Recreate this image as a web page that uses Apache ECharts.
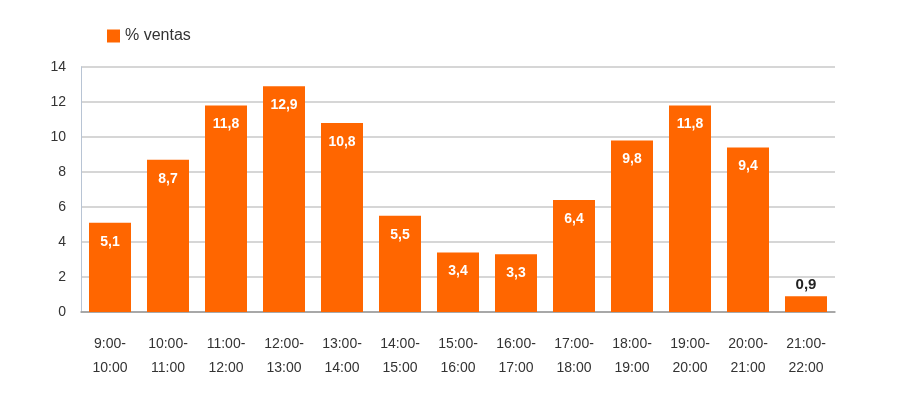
<!DOCTYPE html>
<html>
<head>
<meta charset="utf-8">
<script src="https://cdn.jsdelivr.net/npm/echarts@6/dist/echarts.min.js"></script>
<style>
  html, body { margin: 0; padding: 0; background: #fff; }
  #main { width: 900px; height: 404px; }
</style>
</head>
<body>
<div id="main"></div>
<script>
// franjas horarias y porcentaje de ventas
const horas = ["9:00-\n10:00", "10:00-\n11:00", "11:00-\n12:00", "12:00-\n13:00", "13:00-\n14:00",
  "14:00-\n15:00", "15:00-\n16:00", "16:00-\n17:00", "17:00-\n18:00", "18:00-\n19:00",
  "19:00-\n20:00", "20:00-\n21:00", "21:00-\n22:00"];
const ventas = [5.1, 8.7, 11.8, 12.9, 10.8, 5.5, 3.4, 3.3, 6.4, 9.8, 11.8, 9.4, 0.9];
const yTicks = [0, 2, 4, 6, 8, 10, 12, 14];

const orange = "#ff6600";
const font = "Liberation Sans, Arial, sans-serif";

const myChart = echarts.init(document.getElementById("main"));

const option = {
  animation: false,
  textStyle: { fontFamily: font },
  legend: {
    left: 102,
    top: 23,
    itemWidth: 13,
    itemHeight: 13,
    itemGap: 6,
    icon: "rect",
    textStyle: { fontSize: 16, color: "#333", fontFamily: font },
    data: ["% ventas"],
  },
  grid: { left: 81, right: 65, top: 67, bottom: 92 },
  xAxis: {
    type: "category",
    data: horas,
    axisLine: { lineStyle: { color: "#999", width: 1.5 } },
    axisTick: { show: false },
    axisLabel: {
      color: "#333",
      fontSize: 14,
      lineHeight: 24,
      margin: 20,
      interval: 0,
      fontFamily: font,
    },
  },
  yAxis: {
    type: "value",
    min: yTicks[0],
    max: yTicks[yTicks.length - 1],
    interval: 2,
    axisLine: { show: true, lineStyle: { color: "#b8c4d4" } },
    axisTick: { show: false },
    axisLabel: { color: "#333", fontSize: 14, margin: 15, fontFamily: font },
    splitLine: { lineStyle: { color: "#c8c8c8", width: 1.5 } },
  },
  series: [
    {
      name: "% ventas",
      type: "bar",
      barWidth: 42,
      itemStyle: { color: orange },
      data: ventas.map((v) => ({
        value: v,
        label: v < 2
          ? { position: "top", color: "#222", distance: 4, fontSize: 15 }
          : { position: "insideTop", color: "#fff", distance: 12 },
      })),
      label: {
        show: true,
        fontSize: 14,
        fontWeight: "bold",
        fontFamily: font,
        formatter: (p) => String(p.value).replace(".", ","),
      },
    },
  ],
};

myChart.setOption(option);
</script>
</body>
</html>
